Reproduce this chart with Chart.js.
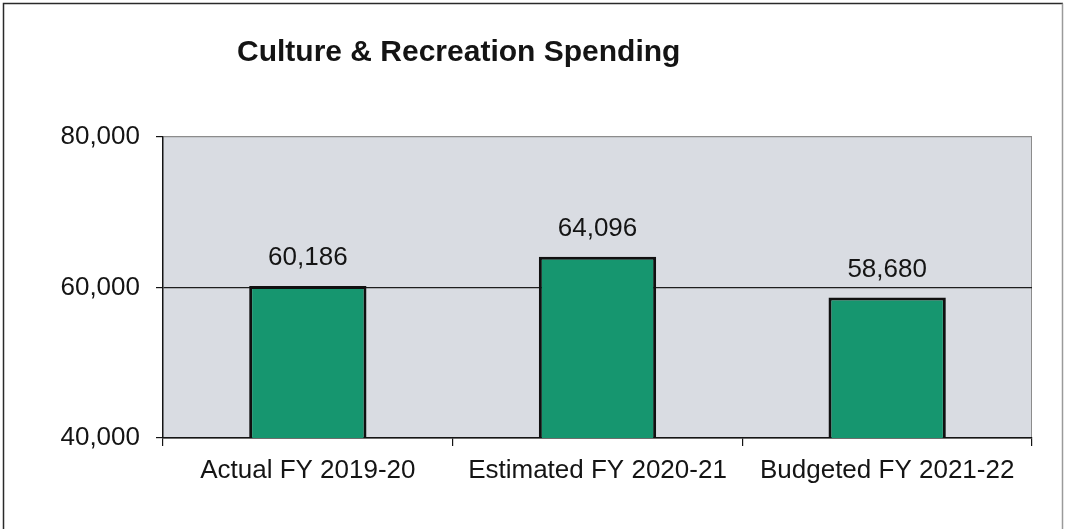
<!DOCTYPE html>
<html>
<head>
<meta charset="utf-8">
<title>Culture &amp; Recreation Spending</title>
<script src="https://cdn.jsdelivr.net/npm/chart.js@4.4.1/dist/chart.umd.min.js"></script>
<style>
  html, body { margin: 0; padding: 0; background: #fff; }
  canvas { display: block; }
</style>
</head>
<body>
<canvas id="spending-chart" width="1065" height="531"></canvas>
<script>
(function () {
  'use strict';

  var categories = ['Actual FY 2019-20', 'Estimated FY 2020-21', 'Budgeted FY 2021-22'];
  var spending = [60186, 64096, 58680];
  var yTicks = [40000, 60000, 80000];

  var FONT = '"Liberation Sans", Arial, sans-serif';
  var INK = '#141414';

  function fmt(v) {
    return Number(v).toLocaleString('en-US');
  }

  // page frame, plot background and title
  var frame = {
    id: 'frame',
    beforeDraw: function (chart) {
      var c = chart.ctx;
      var a = chart.chartArea;
      c.save();
      c.fillStyle = '#fff';
      c.fillRect(0, 0, chart.width, chart.height);
      c.fillStyle = '#d9dce2';
      c.fillRect(a.left, a.top, a.right - a.left, a.bottom - a.top);
      c.strokeStyle = '#8c8c8c';
      c.lineWidth = 1;
      c.beginPath();
      c.moveTo(a.right - 0.5, a.top);
      c.lineTo(a.right - 0.5, a.bottom);
      c.stroke();
      c.restore();
    },
    afterDraw: function (chart) {
      var c = chart.ctx;
      c.save();
      c.strokeStyle = '#2a2a2a';
      c.lineWidth = 1.5;
      c.beginPath();
      c.moveTo(chart.width - 2, 3.5);
      c.lineTo(3.5, 3.5);
      c.lineTo(3.5, chart.height - 2);
      c.stroke();
      c.strokeStyle = '#9a9a9a';
      c.beginPath();
      c.moveTo(chart.width - 2.5, 3.5);
      c.lineTo(chart.width - 2.5, chart.height - 2);
      c.stroke();
      c.fillStyle = INK;
      c.font = 'bold 30px ' + FONT;
      c.textBaseline = 'alphabetic';
      c.textAlign = 'left';
      c.fillText('Culture & Recreation Spending', 237, 61);
      c.restore();
    }
  };

  // value printed above each bar
  var valueLabels = {
    id: 'valueLabels',
    afterDatasetsDraw: function (chart) {
      var c = chart.ctx;
      var meta = chart.getDatasetMeta(0);
      c.save();
      c.fillStyle = INK;
      c.font = '26px ' + FONT;
      c.textAlign = 'center';
      c.textBaseline = 'middle';
      meta.data.forEach(function (bar, i) {
        c.fillText(fmt(chart.data.datasets[0].data[i]), bar.x, bar.y - 28);
      });
      c.restore();
    }
  };

  new Chart(document.getElementById('spending-chart'), {
    type: 'bar',
    data: {
      labels: categories,
      datasets: [{
        data: spending,
        backgroundColor: '#16966f',
        borderColor: '#101010',
        borderWidth: 3,
        borderSkipped: false,
        barPercentage: 0.405,
        categoryPercentage: 1
      }]
    },
    options: {
      responsive: false,
      animation: false,
      devicePixelRatio: 1,
      layout: { padding: { left: 0, right: 33, top: 137, bottom: 0 } },
      plugins: {
        legend: { display: false },
        title: { display: false },
        tooltip: { enabled: false }
      },
      scales: {
        x: {
          afterFit: function (scale) { scale.height = 93; },
          grid: {
            offset: true,
            drawOnChartArea: false,
            drawTicks: true,
            tickLength: 8,
            tickColor: INK,
            lineWidth: 1.2
          },
          border: { color: INK, width: 1.5 },
          ticks: {
            color: INK,
            padding: 9,
            maxRotation: 0,
            font: { family: FONT, size: 26 }
          }
        },
        y: {
          min: yTicks[0],
          max: yTicks[yTicks.length - 1],
          afterFit: function (scale) { scale.width = 163; },
          afterBuildTicks: function (scale) {
            scale.ticks = yTicks.map(function (v) { return { value: v }; });
          },
          grid: {
            color: function (ctx) {
              return ctx.tick && ctx.tick.value === yTicks[yTicks.length - 1] ? '#8c8c8c' : '#1e1e1e';
            },
            lineWidth: 1.2,
            tickLength: 7,
            tickColor: INK
          },
          border: { color: INK, width: 1.5 },
          ticks: {
            color: INK,
            padding: 16,
            font: { family: FONT, size: 26 },
            callback: function (v) { return fmt(v); }
          }
        }
      }
    },
    plugins: [frame, valueLabels]
  });
})();
</script>
</body>
</html>
